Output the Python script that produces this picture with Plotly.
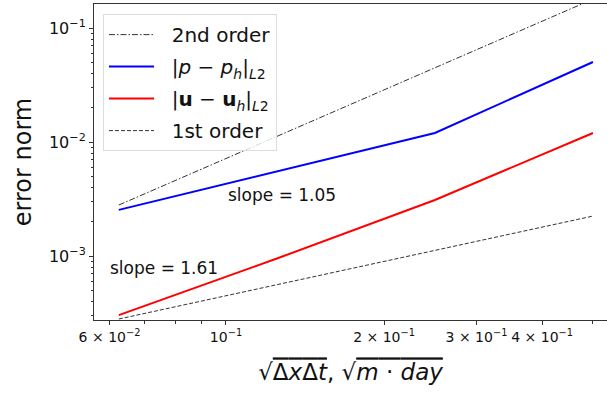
import numpy as np
import plotly.graph_objects as go

# Data
h = [0.0625, 0.125, 0.25, 0.5]
err_p = [2.54e-3, 5.5e-3, 1.20e-2, 5.03e-2]
err_u = [3.03e-4, 9.5e-4, 3.1e-3, 1.20e-2]
ref_2nd = [2.8e-3, 1.12e-2, 4.48e-2, 1.79e-1]
ref_1st = [2.8e-4, 5.6e-4, 1.12e-3, 2.24e-3]

slope_p_label = "slope = 1.05"
slope_u_label = "slope = 1.61"

x_tickvals = [0.06, 0.1, 0.2, 0.3, 0.4]
x_ticktext = ["6 × 10<sup>−2</sup>", "10<sup>−1</sup>", "2 × 10<sup>−1</sup>",
              "3 × 10<sup>−1</sup>", "4 × 10<sup>−1</sup>"]
x_minor = [0.07, 0.08, 0.09, 0.5]
y_tickvals = [1e-3, 1e-2, 1e-1]
y_ticktext = ["10<sup>−3</sup>", "10<sup>−2</sup>", "10<sup>−1</sup>"]
y_minor = [k * 10.0 ** e for e in (-4, -3, -2) for k in range(2, 10)]

FONT = "DejaVu Sans"
PAD = "\u00a0\u00a0"

fig = go.Figure()
fig.add_trace(go.Scatter(x=h, y=ref_2nd, mode="lines", name=PAD + "2nd order",
                         legendgroup="a",
                         line=dict(color="#333333", width=1, dash="6px,2px,1.5px,2px")))
fig.add_trace(go.Scatter(x=h, y=err_p, mode="lines",
                         name=PAD + "|<i>p</i> − <i>p</i><sub><i>h</i></sub>|<sub><i>L</i>2</sub>",
                         legendgroup="b",
                         line=dict(color="#0000ff", width=2)))
fig.add_trace(go.Scatter(x=h, y=err_u, mode="lines",
                         name=PAD + "|<b>u</b> − <b>u</b><sub><i>h</i></sub>|<sub><i>L</i>2</sub>",
                         legendgroup="c",
                         line=dict(color="#ff0000", width=2)))
fig.add_trace(go.Scatter(x=h, y=ref_1st, mode="lines", name=PAD + "1st order",
                         legendgroup="d",
                         line=dict(color="#333333", width=1, dash="4px,2px")))

fig.add_annotation(x=np.log10(0.1278), y=np.log10(3.43e-3), text=slope_p_label,
                   showarrow=False, font=dict(size=17, color="#111111", family=FONT))
fig.add_annotation(x=np.log10(0.0762), y=np.log10(7.85e-4), text=slope_u_label,
                   showarrow=False, font=dict(size=17, color="#111111", family=FONT))

fig.update_layout(
    width=607, height=395,
    margin=dict(l=94, r=0, t=4, b=75),
    paper_bgcolor="white", plot_bgcolor="white",
    font=dict(family=FONT, color="#111111"),
    showlegend=True,
    legend=dict(x=0.0175, y=0.968, xanchor="left", yanchor="top",
                bgcolor="rgba(255,255,255,0.8)", bordercolor="#dddddd", borderwidth=1,
                font=dict(size=20, family=FONT), itemwidth=45, tracegroupgap=3),
    xaxis=dict(type="log", range=[-1.2514, -0.2743], automargin=False,
               tickmode="array", tickvals=x_tickvals, ticktext=x_ticktext, tickangle=0,
               ticks="outside", ticklen=4, tickcolor="#333333",
               tickfont=dict(size=14, family=FONT),
               showgrid=False, zeroline=False,
               showline=True, linecolor="#333333", linewidth=1, mirror=True,
               minor=dict(tickvals=x_minor, ticks="outside", ticklen=3, tickcolor="#333333", showgrid=False),
               title=dict(text="√<span style='text-decoration:overline'>Δ<i>x</i>Δ<i>t</i></span>, √<span style='text-decoration:overline'><i>m</i> · <i>day</i></span>",
                          font=dict(size=23, family=FONT), standoff=20)),
    yaxis=dict(type="log", range=[-3.5614, -0.7895], automargin=False,
               tickmode="array", tickvals=y_tickvals, ticktext=y_ticktext,
               ticks="outside", ticklen=4, tickcolor="#333333",
               tickfont=dict(size=16, family=FONT),
               showgrid=False, zeroline=False,
               showline=True, linecolor="#333333", linewidth=1, mirror=False,
               minor=dict(tickvals=y_minor, ticks="outside", ticklen=2.5, tickcolor="#333333", showgrid=False),
               title=dict(text="error norm", font=dict(size=24, family=FONT), standoff=10)),
)

fig.write_html("out.html", config={"displayModeBar": False},
               post_script="document.body.style.margin='0';document.body.style.padding='0';")
